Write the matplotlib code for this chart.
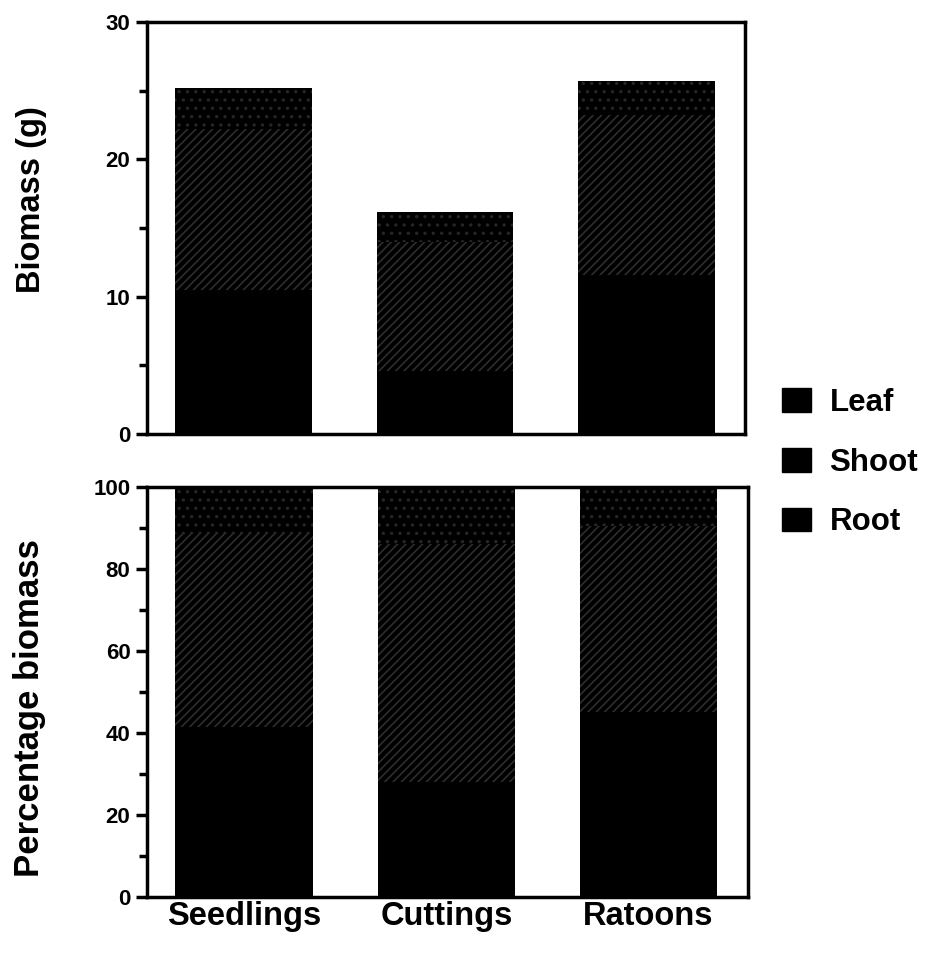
import matplotlib
matplotlib.use("Agg")
import matplotlib.pyplot as plt
from matplotlib.patches import Patch
from matplotlib.ticker import MultipleLocator
import numpy as np

plt.rcParams['font.family'] = ['Liberation Sans', 'DejaVu Sans']
plt.rcParams['font.weight'] = 'bold'
plt.rcParams['hatch.linewidth'] = 1.2

categories = ["Seedlings", "Cuttings", "Ratoons"]
series = ["Leaf", "Shoot", "Root"]

# Biomass (g)
root_g = [10.5, 4.6, 11.6]
shoot_g = [11.7, 9.4, 11.6]
leaf_g = [3.0, 2.2, 2.5]

# Percentage biomass
root_pct = [41.5, 28.0, 45.0]
shoot_pct = [47.0, 58.0, 45.5]
leaf_pct = [11.5, 14.0, 9.5]

fig = plt.figure(figsize=(9.31, 9.58), dpi=100)
ax1 = fig.add_axes([0.158, 0.547, 0.642, 0.430])
ax2 = fig.add_axes([0.158, 0.0637, 0.645, 0.4283])

x = np.arange(len(categories))
w = 0.68
hatch_col = '#2e2e2e'

def draw(ax, root, shoot, leaf):
    root = np.array(root); shoot = np.array(shoot); leaf = np.array(leaf)
    ax.bar(x, root, w, color='black', edgecolor='black', linewidth=0)
    ax.bar(x, shoot, w, bottom=root, color='black', edgecolor=hatch_col,
           hatch='////', linewidth=0)
    ax.bar(x, leaf, w, bottom=root + shoot, color='black', edgecolor='#262626',
           hatch='..', linewidth=0)
    ax.set_xlim(-0.48, 2.49)
    for s in ax.spines.values():
        s.set_linewidth(2.5)
    ax.tick_params(axis='y', which='major', direction='out', length=8, width=2.5,
                   labelsize=16, pad=4)
    ax.tick_params(axis='y', which='minor', direction='out', length=6, width=2.5)
    ax.tick_params(axis='x', length=0)

draw(ax1, root_g, shoot_g, leaf_g)
ax1.set_ylim(0, 30)
ax1.yaxis.set_major_locator(MultipleLocator(10))
ax1.yaxis.set_minor_locator(MultipleLocator(5))
ax1.set_xticks([])
ax1.set_ylabel("Biomass (g)", fontsize=23.5, fontweight='bold')
ax1.yaxis.set_label_coords(-0.168, 0.568)
for lab in ax1.get_yticklabels():
    lab.set_fontweight('heavy')

draw(ax2, root_pct, shoot_pct, leaf_pct)
ax2.set_ylim(0, 100)
ax2.yaxis.set_major_locator(MultipleLocator(20))
ax2.yaxis.set_minor_locator(MultipleLocator(10))
ax2.set_xticks(x)
ax2.set_xticklabels(categories, fontsize=23.5, fontweight='bold')
ax2.tick_params(axis='x', pad=3)
ax2.set_ylabel("Percentage biomass", fontsize=25, fontweight='bold')
ax2.yaxis.set_label_coords(-0.168, 0.461)
for lab in ax2.get_yticklabels():
    lab.set_fontweight('heavy')

handles = [Patch(facecolor='black', edgecolor='black') for _ in series]
fig.legend(handles, series, loc='center left', bbox_to_anchor=(0.840, 0.517),
           frameon=False, handlelength=0.92, handleheight=0.8,
           labelspacing=0.95, handletextpad=0.6, borderaxespad=0, borderpad=0,
           prop={'weight': 'bold', 'size': 22.5})

fig.savefig("out.png", dpi=100)
